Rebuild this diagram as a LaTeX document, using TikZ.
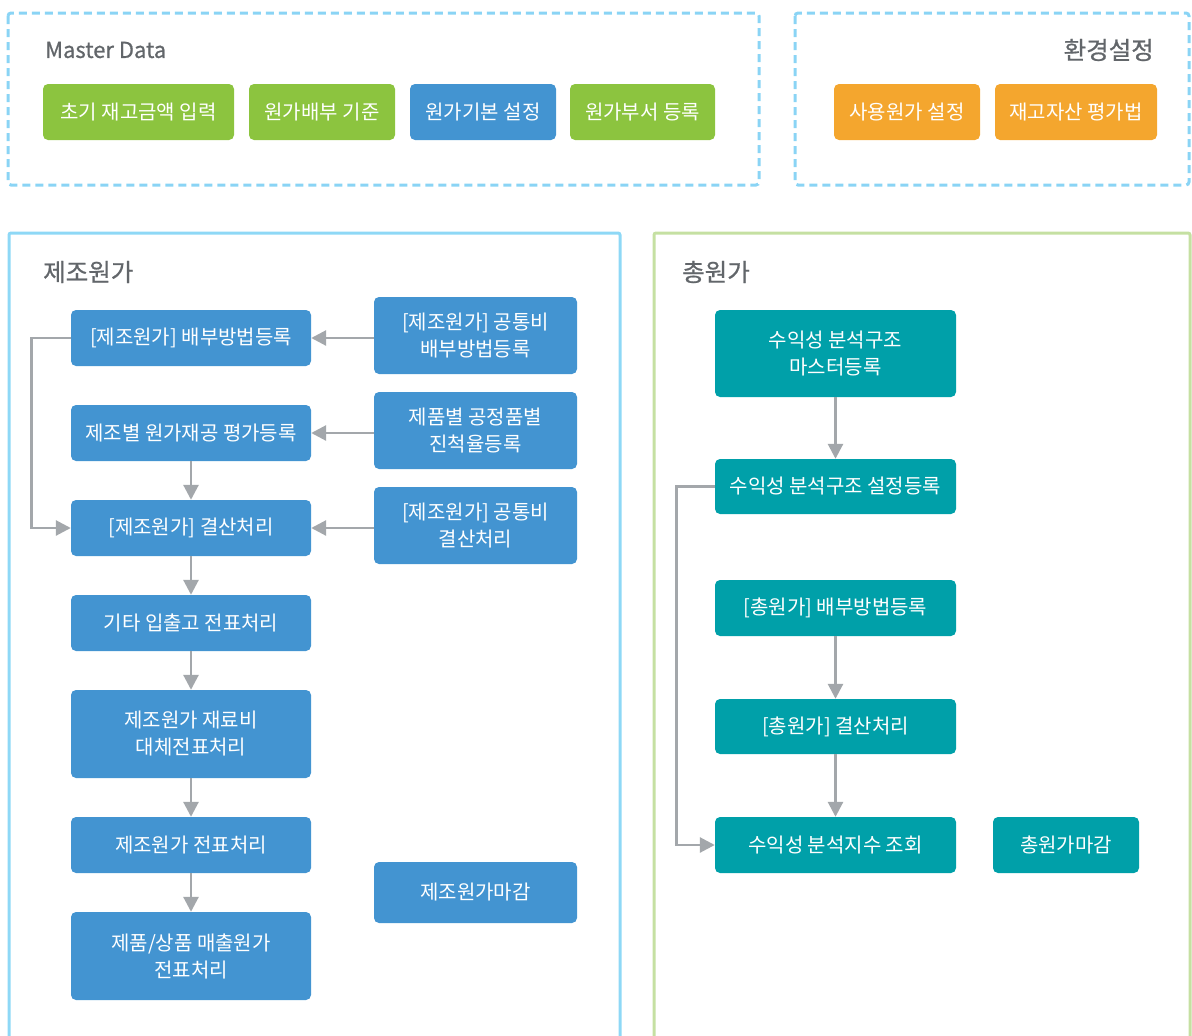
\documentclass[tikz,border=0pt]{standalone}
\usepackage{fontspec}
\setmainfont{Noto Sans CJK KR}
\newfontfamily\titlefont{Noto Sans CJK KR}[FakeBold=0.8]
\usetikzlibrary{arrows.meta}
\definecolor{cblue}{HTML}{4394D1}
\definecolor{cgreen}{HTML}{8CC43F}
\definecolor{cteal}{HTML}{00A0A9}
\definecolor{corange}{HTML}{F4A62E}
\definecolor{carrow}{HTML}{A3A7AB}
\definecolor{cpanelblue}{HTML}{8ED8F6}
\definecolor{cpanelgreen}{HTML}{C5E0A2}
\definecolor{cdash}{HTML}{8AD4F5}
\definecolor{ctitle}{HTML}{62666A}
\begin{document}
\begin{tikzpicture}[x=1pt,y=-1pt,
  bx/.style={fill=#1, draw=none, rounded corners=5pt, text=white, inner sep=0pt,
    align=center, font=\fontsize{20}{27}\selectfont},
  arr/.style={draw=carrow, line width=2.8pt, -{Triangle[length=15pt,width=15pt]}},
  dashbox/.style={draw=cdash, line width=3pt, dash pattern=on 8pt off 5pt, rounded corners=3pt},
  title/.style={text=ctitle, inner sep=0pt, font=\titlefont\fontsize{22}{27}\selectfont},
  ktitle/.style={text=ctitle, inner sep=0pt, font=\titlefont\fontsize{24.5}{27}\selectfont}]
\useasboundingbox (0,0) rectangle (1192,1036);
\begin{scope}
\clip (0,0) rectangle (1192,1036);
% frames
\draw[dashbox] (8,13) rectangle (759,185);
\draw[dashbox] (795,13) rectangle (1189,185);
\draw[cpanelblue, line width=3pt, rounded corners=2pt] (9,1060) |- (620,233) -- (620,1060);
\draw[cpanelgreen, line width=3pt, rounded corners=2pt] (654,1060) |- (1190,233) -- (1190,1060);
\end{scope}
% titles
\node[title, anchor=west] (tmaster) at (45,50) {Master Data};
\node[ktitle, anchor=east] (tenv) at (1154,50) {환경설정};
\node[ktitle, anchor=west] (tmfg) at (43,272) {제조원가};
\node[ktitle, anchor=west] (ttot) at (682,272) {총원가};
% master data
\node[bx=cgreen, minimum width=191pt, minimum height=56pt] (m1) at (138.5,112) {초기 재고금액 입력};
\node[bx=cgreen, minimum width=146pt, minimum height=56pt] (m2) at (322,112) {원가배부 기준};
\node[bx=cblue, minimum width=146pt, minimum height=56pt] (m3) at (483,112) {원가기본 설정};
\node[bx=cgreen, minimum width=145pt, minimum height=56pt] (m4) at (642.5,112) {원가부서 등록};
\node[bx=corange, minimum width=146pt, minimum height=56pt] (o1) at (907,112) {사용원가 설정};
\node[bx=corange, minimum width=162pt, minimum height=56pt] (o2) at (1076,112) {재고자산 평가법};
% left panel
\node[bx=cblue, minimum width=240pt, minimum height=56pt] (b1) at (191,338) {[제조원가] 배부방법등록};
\node[bx=cblue, minimum width=240pt, minimum height=56pt] (b2) at (191,433) {제조별 원가재공 평가등록};
\node[bx=cblue, minimum width=240pt, minimum height=56pt] (b3) at (191,528) {[제조원가] 결산처리};
\node[bx=cblue, minimum width=240pt, minimum height=56pt] (b4) at (191,623) {기타 입출고 전표처리};
\node[bx=cblue, minimum width=240pt, minimum height=88pt] (b5) at (191,734) {제조원가 재료비\\대체전표처리};
\node[bx=cblue, minimum width=240pt, minimum height=56pt] (b6) at (191,845) {제조원가 전표처리};
\node[bx=cblue, minimum width=240pt, minimum height=88pt] (b7) at (191,956) {제품/상품 매출원가\\전표처리};
\node[bx=cblue, minimum width=203pt, minimum height=77pt] (r1) at (475.5,335.5) {[제조원가] 공통비\\배부방법등록};
\node[bx=cblue, minimum width=203pt, minimum height=77pt] (r2) at (475.5,430.5) {제품별 공정품별\\진척율등록};
\node[bx=cblue, minimum width=203pt, minimum height=77pt] (r3) at (475.5,525.5) {[제조원가] 공통비\\결산처리};
\node[bx=cblue, minimum width=203pt, minimum height=61pt] (r4) at (475.5,892.5) {제조원가마감};
% right panel
\node[bx=cteal, minimum width=241pt, minimum height=87pt] (t1) at (835.5,353.5) {수익성 분석구조\\마스터등록};
\node[bx=cteal, minimum width=241pt, minimum height=55pt] (t2) at (835.5,486.5) {수익성 분석구조 설정등록};
\node[bx=cteal, minimum width=241pt, minimum height=56pt] (t3) at (835.5,608) {[총원가] 배부방법등록};
\node[bx=cteal, minimum width=241pt, minimum height=55pt] (t4) at (835.5,726.5) {[총원가] 결산처리};
\node[bx=cteal, minimum width=241pt, minimum height=56pt] (t5) at (835.5,845) {수익성 분석지수 조회};
\node[bx=cteal, minimum width=146pt, minimum height=56pt] (t6) at (1066,845) {총원가마감};
% connectors left
\draw[arr] (b1.east -| r1.west) -- (b1.east);
\draw[arr] (b2.east -| r2.west) -- (b2.east);
\draw[arr] (b3.east -| r3.west) -- (b3.east);
\draw[arr] (b2.south) -- (b3.north);
\draw[arr] (b3.south) -- (b4.north);
\draw[arr] (b4.south) -- (b5.north);
\draw[arr] (b5.south) -- (b6.north);
\draw[arr] (b6.south) -- (b7.north);
\draw[arr] (b1.west) -- ++(-39,0) |- (b3.west);
% connectors right
\draw[arr] (t1.south) -- (t2.north);
\draw[arr] (t3.south) -- (t4.north);
\draw[arr] (t4.south) -- (t5.north);
\draw[arr] (t2.west) -- ++(-38,0) |- (t5.west);
\end{tikzpicture}
\end{document}
